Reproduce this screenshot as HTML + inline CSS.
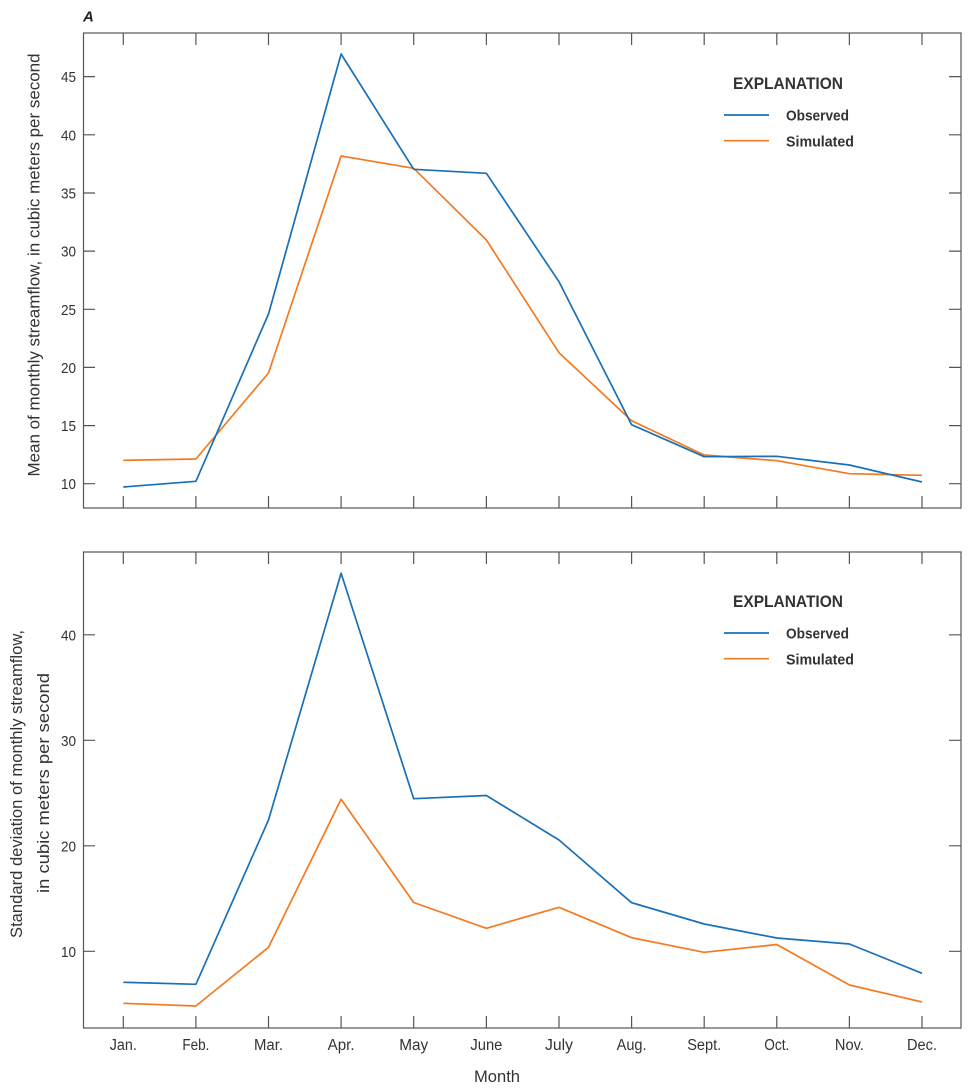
<!DOCTYPE html>
<html><head><meta charset="utf-8"><style>
html,body{margin:0;padding:0;background:#fff;}
svg{display:block;}
text{font-family:"Liberation Sans Narrow","Liberation Sans",sans-serif;fill:#333;}
</style></head><body>
<svg width="969" height="1090" viewBox="0 0 969 1090" xmlns="http://www.w3.org/2000/svg">
<text x="83" y="21.5" style="font-family:'Liberation Sans',sans-serif;font-weight:bold;font-style:italic;font-size:15px;fill:#222">A</text>

<!-- TOP PANEL -->
<rect x="83.5" y="33" width="877.5" height="475" fill="none" stroke="#555" stroke-width="1.2"/>
<g stroke="#555" stroke-width="1.2">
<path d="M123.3 33v12M195.9 33v12M268.5 33v12M341.1 33v12M413.7 33v12M486.4 33v12M559 33v12M631.6 33v12M704.2 33v12M776.8 33v12M849.4 33v12M922 33v12"/>
<path d="M123.3 508v-12M195.9 508v-12M268.5 508v-12M341.1 508v-12M413.7 508v-12M486.4 508v-12M559 508v-12M631.6 508v-12M704.2 508v-12M776.8 508v-12M849.4 508v-12M922 508v-12"/>
<path d="M83 483.7h12M83 425.6h12M83 367.4h12M83 309.3h12M83 251.1h12M83 193h12M83 134.8h12M83 76.6h12"/>
<path d="M961 483.7h-12M961 425.6h-12M961 367.4h-12M961 309.3h-12M961 251.1h-12M961 193h-12M961 134.8h-12M961 76.6h-12"/>
</g>
<g font-size="15" text-anchor="end">
<text x="76" y="489" textLength="15" lengthAdjust="spacingAndGlyphs">10</text>
<text x="76" y="431" textLength="15" lengthAdjust="spacingAndGlyphs">15</text>
<text x="76" y="373" textLength="15" lengthAdjust="spacingAndGlyphs">20</text>
<text x="76" y="315" textLength="15" lengthAdjust="spacingAndGlyphs">25</text>
<text x="76" y="256.5" textLength="15" lengthAdjust="spacingAndGlyphs">30</text>
<text x="76" y="198.5" textLength="15" lengthAdjust="spacingAndGlyphs">35</text>
<text x="76" y="140.3" textLength="15" lengthAdjust="spacingAndGlyphs">40</text>
<text x="76" y="82" textLength="15" lengthAdjust="spacingAndGlyphs">45</text>
</g>
<text transform="translate(39.5,265) rotate(-90)" text-anchor="middle" font-size="17" textLength="423" lengthAdjust="spacingAndGlyphs">Mean of monthly streamflow, in cubic meters per second</text>

<polyline fill="none" stroke="#f47a20" stroke-width="1.7" stroke-linejoin="round" points="123.3,460.3 195.9,459 268.5,373 341.1,156 413.7,168.3 486.4,240 559,352.7 631.6,420.7 704.2,455 776.8,460.7 849.4,473.7 922,475.3"/>
<polyline fill="none" stroke="#1a70b6" stroke-width="1.7" stroke-linejoin="round" points="123.3,487 195.9,481.3 268.5,314 341.1,54 413.7,169.3 486.4,173.3 559,281.7 631.6,424.7 704.2,456.7 776.8,456.3 849.4,465 922,482"/>

<text x="733" y="89" style="font-weight:bold" font-size="17" textLength="110" lengthAdjust="spacingAndGlyphs">EXPLANATION</text>
<line x1="724" y1="115" x2="769" y2="115" stroke="#1a70b6" stroke-width="1.7"/>
<line x1="724" y1="140.7" x2="769" y2="140.7" stroke="#f47a20" stroke-width="1.7"/>
<text x="786" y="120.5" style="font-weight:bold" font-size="15" textLength="63" lengthAdjust="spacingAndGlyphs">Observed</text>
<text x="786" y="146.5" style="font-weight:bold" font-size="15" textLength="68" lengthAdjust="spacingAndGlyphs">Simulated</text>

<!-- BOTTOM PANEL -->
<rect x="83.5" y="552" width="877.5" height="476" fill="none" stroke="#555" stroke-width="1.2"/>
<g stroke="#555" stroke-width="1.2">
<path d="M123.3 552v12M195.9 552v12M268.5 552v12M341.1 552v12M413.7 552v12M486.4 552v12M559 552v12M631.6 552v12M704.2 552v12M776.8 552v12M849.4 552v12M922 552v12"/>
<path d="M123.3 1028v-12M195.9 1028v-12M268.5 1028v-12M341.1 1028v-12M413.7 1028v-12M486.4 1028v-12M559 1028v-12M631.6 1028v-12M704.2 1028v-12M776.8 1028v-12M849.4 1028v-12M922 1028v-12"/>
<path d="M83 951.3h12M83 845.8h12M83 740.3h12M83 634.8h12"/>
<path d="M961 951.3h-12M961 845.8h-12M961 740.3h-12M961 634.8h-12"/>
</g>
<g font-size="15" text-anchor="end">
<text x="76" y="956.8" textLength="15" lengthAdjust="spacingAndGlyphs">10</text>
<text x="76" y="851.3" textLength="15" lengthAdjust="spacingAndGlyphs">20</text>
<text x="76" y="745.8" textLength="15" lengthAdjust="spacingAndGlyphs">30</text>
<text x="76" y="640.3" textLength="15" lengthAdjust="spacingAndGlyphs">40</text>
</g>
<text transform="translate(22,784) rotate(-90)" text-anchor="middle" font-size="17" textLength="308" lengthAdjust="spacingAndGlyphs">Standard deviation of monthly streamflow,</text>
<text transform="translate(49,783) rotate(-90)" text-anchor="middle" font-size="17" textLength="220" lengthAdjust="spacingAndGlyphs">in cubic meters per second</text>

<polyline fill="none" stroke="#f47a20" stroke-width="1.7" stroke-linejoin="round" points="123.3,1003.3 195.9,1006 268.5,947.3 341.1,799.3 413.7,902.5 486.4,928.3 559,907.3 631.6,937.7 704.2,952.3 776.8,944.5 849.4,985 922,1002"/>
<polyline fill="none" stroke="#1a70b6" stroke-width="1.7" stroke-linejoin="round" points="123.3,982.3 195.9,984.3 268.5,820 341.1,573.3 413.7,798.7 486.4,795.5 559,840 631.6,902.7 704.2,924 776.8,938 849.4,944 922,973.3"/>

<text x="733" y="607" style="font-weight:bold" font-size="17" textLength="110" lengthAdjust="spacingAndGlyphs">EXPLANATION</text>
<line x1="724" y1="633" x2="769" y2="633" stroke="#1a70b6" stroke-width="1.7"/>
<line x1="724" y1="658.7" x2="769" y2="658.7" stroke="#f47a20" stroke-width="1.7"/>
<text x="786" y="638.5" style="font-weight:bold" font-size="15" textLength="63" lengthAdjust="spacingAndGlyphs">Observed</text>
<text x="786" y="664.5" style="font-weight:bold" font-size="15" textLength="68" lengthAdjust="spacingAndGlyphs">Simulated</text>

<g font-size="15.5" text-anchor="middle">
<text x="123.3" y="1050" textLength="27" lengthAdjust="spacingAndGlyphs">Jan.</text>
<text x="195.9" y="1050" textLength="27" lengthAdjust="spacingAndGlyphs">Feb.</text>
<text x="268.5" y="1050" textLength="29" lengthAdjust="spacingAndGlyphs">Mar.</text>
<text x="341.1" y="1050" textLength="27" lengthAdjust="spacingAndGlyphs">Apr.</text>
<text x="413.7" y="1050" textLength="29" lengthAdjust="spacingAndGlyphs">May</text>
<text x="486.4" y="1050" textLength="32" lengthAdjust="spacingAndGlyphs">June</text>
<text x="559" y="1050" textLength="28" lengthAdjust="spacingAndGlyphs">July</text>
<text x="631.6" y="1050" textLength="30" lengthAdjust="spacingAndGlyphs">Aug.</text>
<text x="704.2" y="1050" textLength="34" lengthAdjust="spacingAndGlyphs">Sept.</text>
<text x="776.8" y="1050" textLength="25" lengthAdjust="spacingAndGlyphs">Oct.</text>
<text x="849.4" y="1050" textLength="29" lengthAdjust="spacingAndGlyphs">Nov.</text>
<text x="922" y="1050" textLength="30" lengthAdjust="spacingAndGlyphs">Dec.</text>
</g>
<text x="497" y="1082" text-anchor="middle" font-size="17" textLength="46" lengthAdjust="spacingAndGlyphs">Month</text>
</svg>
</body></html>
